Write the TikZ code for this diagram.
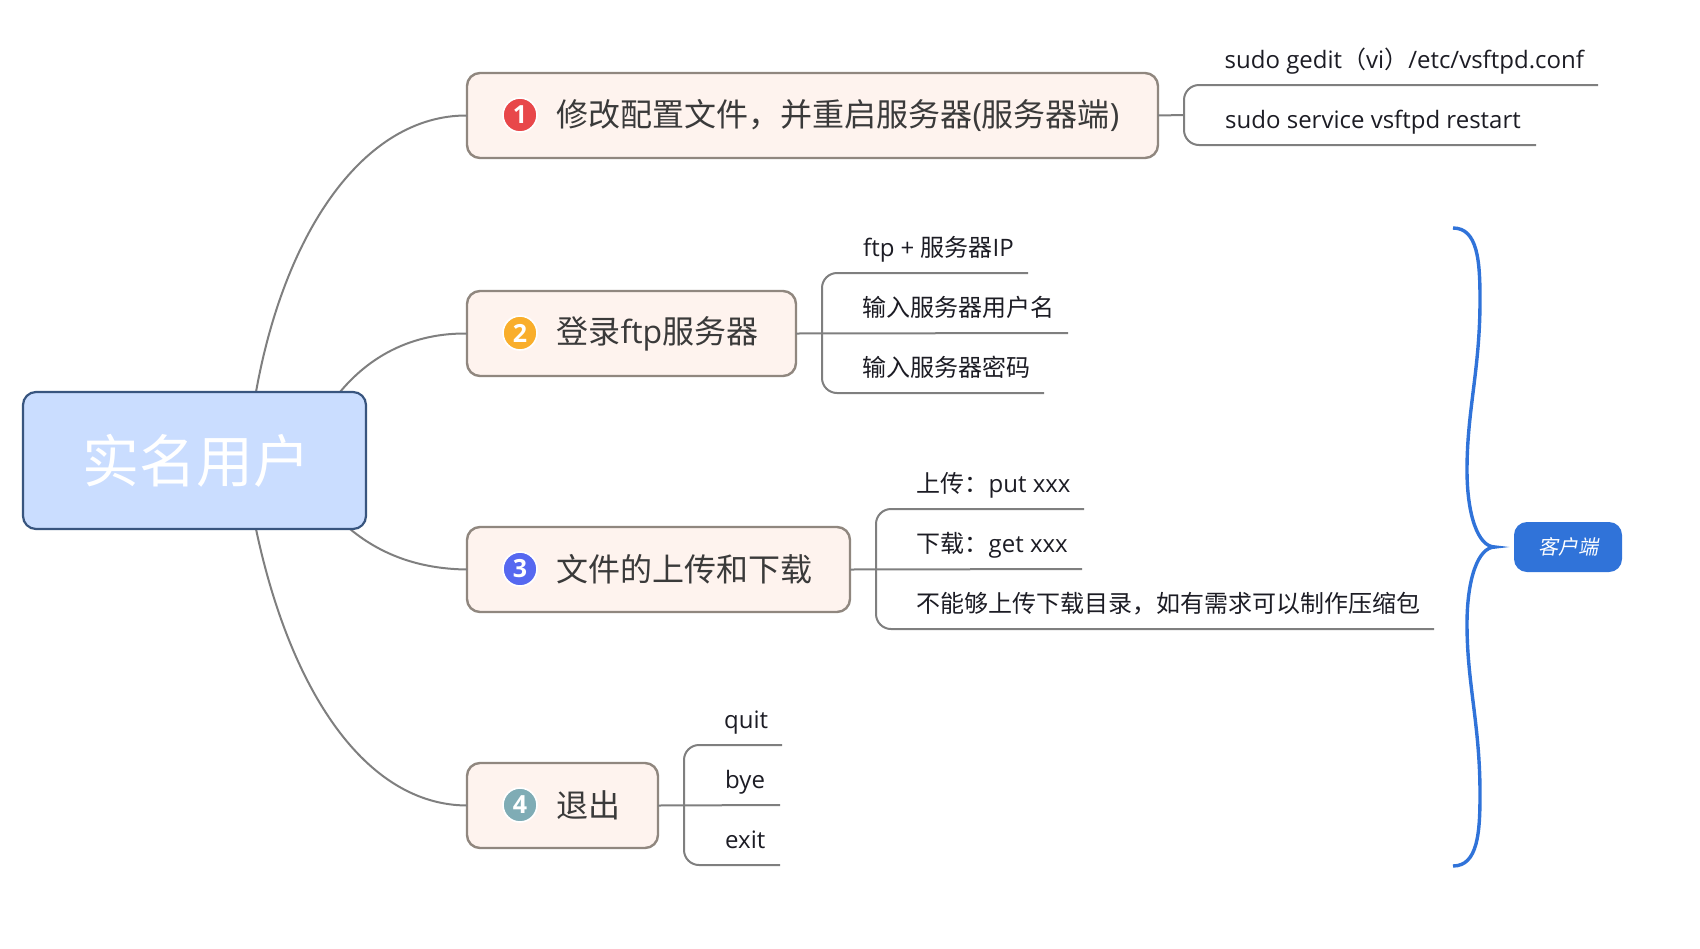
\documentclass[tikz,border=0pt]{standalone}
\usepackage{fontspec}
\setmainfont{Open Sans}
\newfontfamily\cjk{Noto Sans CJK SC}
\newfontfamily\cjkit[FakeSlant=0.2]{Noto Sans CJK SC}
\newcommand{\Zh}[1]{{\cjk #1}}
\definecolor{lnk}{HTML}{7F7F7F}
\definecolor{topicfill}{HTML}{FEF3EE}
\definecolor{topicline}{HTML}{90877F}
\definecolor{rootfill}{HTML}{CADDFF}
\definecolor{rootline}{HTML}{38557F}
\definecolor{bluebrace}{HTML}{3073D9}
\definecolor{ink}{HTML}{1C1C24}
\definecolor{topicink}{HTML}{3A3A3A}
\definecolor{badgea}{HTML}{E8474A}
\definecolor{badgeb}{HTML}{F9AE2B}
\definecolor{badgec}{HTML}{5668F0}
\definecolor{badged}{HTML}{7FACB5}
\tikzset{
  link/.style={draw=lnk,line width=2pt},
  branch/.style={link,rounded corners=15pt},
  rootbox/.style={draw=rootline,fill=rootfill,line width=2.2pt,rounded corners=13pt,inner sep=0pt,outer sep=0pt,
     text=white,font=\fontsize{57}{60}\selectfont\cjk},
  topicbox/.style={draw=topicline,fill=topicfill,line width=2.4pt,rounded corners=13pt,inner sep=0pt,outer sep=0pt,
     text=topicink,font=\fontsize{32}{38}\selectfont,minimum height=85pt},
  leaf/.style={anchor=base west,inner sep=0pt,text=ink,font=\fontsize{24}{29}\selectfont},
  badge/.style={circle,draw=white,line width=1.6pt,minimum size=34pt,inner sep=0pt,text=white,
     font=\fontsize{25}{26}\selectfont\bfseries},
  tag/.style={fill=bluebrace,rounded corners=13pt,minimum width=108pt,minimum height=50pt,inner sep=0pt,text=white,
     font=\fontsize{20}{24}\selectfont\cjkit},
}
\newcommand{\Tx}[2]{\hbox to #1pt{\hspace{89.5pt}#2\hfil}}
\begin{document}
\begin{tikzpicture}[x=1pt,y=-1pt]
\useasboundingbox (0,0) rectangle (1700,948);
% nodes
\coordinate (rt1) at (256,392);
\coordinate (rt2) at (340,392);
\coordinate (rb3) at (350,529);
\coordinate (rb4) at (256,529);
\node[topicbox,minimum width=691pt] (t1) at (812.5,115.5) {\Tx{691}{\Zh{修改配置文件，并重启服务器}(\Zh{服务器端})}};
\node[topicbox,minimum width=329pt] (t2) at (631.5,333.5) {\Tx{329}{\raisebox{-3pt}{\Zh{登录}ftp\Zh{服务器}}}};
\node[topicbox,minimum width=383pt] (t3) at (658.5,569.5) {\Tx{383}{\Zh{文件的上传和下载}}};
\node[topicbox,minimum width=191pt] (t4) at (562.5,805.5) {\Tx{191}{\Zh{退出}}};
% root connectors
\draw[link] (rt1) .. controls (285,230) and (365,115) .. (t1.west);
\draw[link] (rt2) .. controls (375,350) and (420,333) .. (t2.west);
\draw[link] (rb3) .. controls (385,558) and (425,569) .. (t3.west);
\draw[link] (rb4) .. controls (290,690) and (365,805) .. (t4.west);
\node[rootbox,minimum width=343pt,minimum height=137pt] (root) at (194.5,460.5) {\raisebox{4pt}{\hspace{3pt}实名用户}};
% badges
\node[badge,fill=badgea] (b1) at (520,115) {1};
\node[badge,fill=badgeb] (b2) at (520,333) {2};
\node[badge,fill=badgec] (b3) at (520,569) {3};
\node[badge,fill=badged] (b4) at (520,805) {4};
% branch 1
\coordinate (j1) at (1184,115);
\coordinate (a1) at (1598,85);
\coordinate (a2) at (1536,145);
\draw[link] (t1.east) -- (j1);
\draw[branch] (a1) -- (1184,85) -- (1184,145) -- (a2);
\node[leaf] (l11) at (1224.5,68) {sudo gedit\Zh{（}vi\Zh{）}/etc/vsftpd.conf};
\node[leaf] (l12) at (1225,128) {sudo service vsftpd restart};
% branch 2
\coordinate (c1) at (1028,273);
\coordinate (c2) at (1068,333);
\coordinate (c3) at (1044,393);
\draw[link] (t2.east) -- (c2);
\draw[branch] (c1) -- (822,273) -- (822,393) -- (c3);
\node[leaf] (l21) at (863,256) {ftp + \Zh{服务器}IP};
\node[leaf] (l22) at (862.5,316) {\Zh{输入服务器用户名}};
\node[leaf] (l23) at (862.5,376) {\Zh{输入服务器密码}};
% branch 3
\coordinate (d1) at (1084,509);
\coordinate (d2) at (1082,569);
\coordinate (d3) at (1434,629);
\draw[link] (t3.east) -- (d2);
\draw[branch] (d1) -- (876,509) -- (876,629) -- (d3);
\node[leaf] (l31) at (916.5,492) {\Zh{上传：}put xxx};
\node[leaf] (l32) at (916.5,552) {\Zh{下载：}get xxx};
\node[leaf] (l33) at (916.5,612) {\Zh{不能够上传下载目录，如有需求可以制作压缩包}};
% branch 4
\coordinate (f1) at (782,745);
\coordinate (f2) at (780,805);
\coordinate (f3) at (780,865);
\draw[link] (t4.east) -- (f2);
\draw[branch] (f1) -- (684,745) -- (684,865) -- (f3);
\node[leaf] (l41) at (724,728) {quit};
\node[leaf] (l42) at (725,788) {bye};
\node[leaf] (l43) at (725,848) {exit};
% summary
\node[tag] (tag) at (1568,547) {客户端};
\coordinate (st) at (1453,228);
\coordinate (sm) at (1495,547);
\coordinate (sb) at (1453,866);
\draw[bluebrace,line width=3.4pt] (st) .. controls (1478,228) and (1480,262) .. (1480,300)
  .. controls (1480,370) and (1467,410) .. (1467,470)
  .. controls (1467,515) and (1478,547) .. (sm)
  .. controls (1478,547) and (1467,579) .. (1467,624)
  .. controls (1467,684) and (1480,724) .. (1480,794)
  .. controls (1480,832) and (1478,866) .. (sb);
\end{tikzpicture}
\end{document}
